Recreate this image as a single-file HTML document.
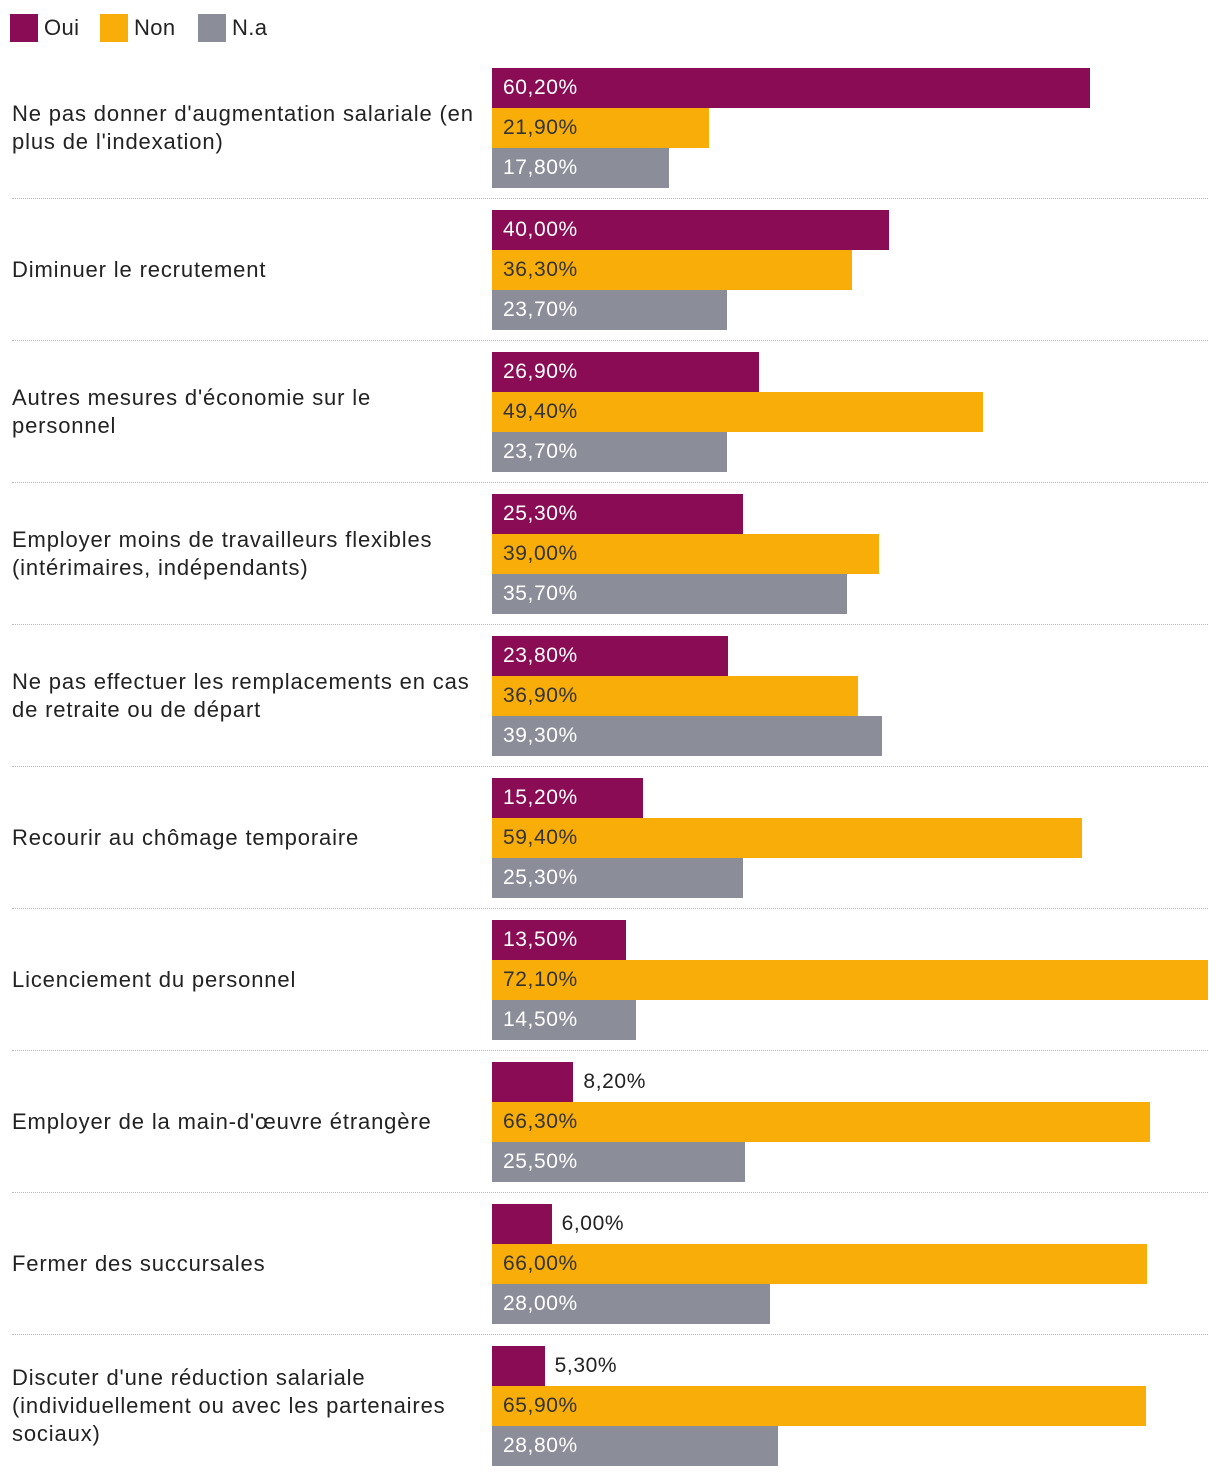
<!DOCTYPE html>
<html><head><meta charset="utf-8"><style>
body{margin:0;background:#fff;font-family:"Liberation Sans",Arial,sans-serif;}
#c{position:relative;width:1220px;height:1478px;overflow:hidden}
.lg{position:absolute;top:14px;height:28px;font-size:22px;line-height:28px;color:#222;letter-spacing:0.4px}
.sw{position:absolute;top:14px;width:28px;height:28px}
.bar{position:absolute;height:40px}
.bl{position:absolute;font-size:21px;line-height:40px;height:40px;white-space:nowrap;letter-spacing:0.6px}
.cat{position:absolute;left:12px;width:480px;font-size:22px;line-height:28px;color:#222;white-space:pre-line;letter-spacing:0.85px}
.sep{position:absolute;left:12px;width:1196px;border-top:1px dotted #bbb;height:0}
</style></head><body>
<div id="c">
<div class="sw" style="left:10px;background:#8a0c55"></div>
<div class="lg" style="left:44px">Oui</div>
<div class="sw" style="left:100px;background:#f8ad09"></div>
<div class="lg" style="left:134px">Non</div>
<div class="sw" style="left:198px;background:#8b8e99"></div>
<div class="lg" style="left:232px">N.a</div>
</div>
<script>
const categories=["Ne pas donner d'augmentation salariale (en\nplus de l'indexation)","Diminuer le recrutement","Autres mesures d'économie sur le\npersonnel","Employer moins de travailleurs flexibles\n(intérimaires, indépendants)","Ne pas effectuer les remplacements en cas\nde retraite ou de départ","Recourir au chômage temporaire","Licenciement du personnel","Employer de la main-d'œuvre étrangère","Fermer des succursales","Discuter d'une réduction salariale\n(individuellement ou avec les partenaires\nsociaux)"];
const oui=[60.2,40.0,26.9,25.3,23.8,15.2,13.5,8.2,6.0,5.3];
const non=[21.9,36.3,49.4,39.0,36.9,59.4,72.1,66.3,66.0,65.9];
const na=[17.8,23.7,23.7,35.7,39.3,25.3,14.5,25.5,28.0,28.8];
const c=document.getElementById('c');
const x0=492,pp=9.93;
function xs(v){return v*pp;}
const series=[{n:'oui',d:oui,col:'#8a0c55',tc:'#fff'},{n:'non',d:non,col:'#f8ad09',tc:'#333'},{n:'na',d:na,col:'#8b8e99',tc:'#fff'}];
function fmt(v){return v.toFixed(2).replace('.',',')+'%';}
categories.forEach((cat,i)=>{
  const top=68+142*i;
  const lab=document.createElement('div');
  lab.className='cat';
  
  
  lab.textContent=cat;
  c.appendChild(lab);
  const h=lab.offsetHeight;
  lab.style.top=(top+60-h/2)+'px';
  series.forEach((s,j)=>{
    const v=s.d[i],w=xs(v),y=top+40*j;
    const b=document.createElement('div');
    b.className='bar';
    
    
    b.style.cssText=`left:${x0}px;top:${y}px;width:${w}px;background:${s.col}`;
    c.appendChild(b);
    const t=document.createElement('div');
    t.className='bl';
    
    
    t.textContent=fmt(v);
    if(w<90){t.style.left=(x0+w+10)+'px';t.style.color='#222';}
    else{t.style.left=(x0+11)+'px';t.style.color=s.tc;}
    t.style.top=y+'px';
    c.appendChild(t);
  });
  if(i<categories.length-1){
    const sp=document.createElement('div');
    sp.className='sep';
    
    
    sp.style.top=(top+130)+'px';
    c.appendChild(sp);
  }
});
</script>
</body></html>
